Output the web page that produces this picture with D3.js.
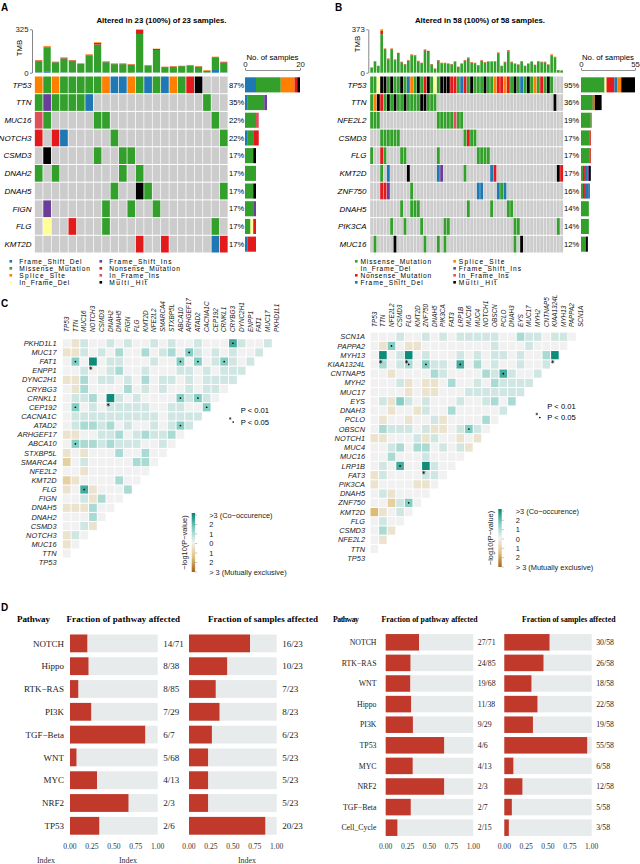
<!DOCTYPE html>
<html><head><meta charset="utf-8">
<script src="https://cdn.jsdelivr.net/npm/d3@7"></script>
<style>
body{margin:0;background:#fff;}
svg{display:block;font-family:"Liberation Sans",Arial,sans-serif;}
</style></head><body>
<svg id="c" width="640" height="864"></svg>
<script>
// ---------------- DATA ----------------
const mutNames = {M:"Missense_Mutation",N:"Nonsense_Mutation",S:"Splice_Site",D:"Frame_Shift_Del",I:"Frame_Shift_Ins",d:"In_Frame_Del",i:"In_Frame_Ins",X:"Multi_Hit"};
const mutColors = {M:"#33A02C",N:"#E31A1C",S:"#FF7F00",D:"#1F78B4",I:"#6A3D9A",d:"#FFFF99",i:"#E0505C",X:"#000000"};

// Panel A (23 samples)
const genesA = ["TP53","TTN","MUC16","NOTCH3","CSMD3","DNAH2","DNAH5","FIGN","FLG","KMT2D"];
const mutA = [
 "SMSMMMMMSDDSMDMDSMNX...",
 "MIMMMMD.............M..",
 "iM.....MM............M.",
 "N.ND.....M............M",
 ".X.....M..MM...........",
 "M.M.......M.M..........",
 ".........M..XM........M",
 ".I......M..M..M........",
 ".d..N...M............M.",
 "............N..N.....DN"
];
const tmbA_mis = [84,184,78,105,87,65,127,208,79,62,64,60,287,52,168,42,45,49,53,45,13,92,74];
const tmbA_non = [5,5,3,5,4,3,6,12,4,3,4,3,30,3,8,2,3,2,3,3,0,5,4];
const tmbA_spl = [3,5,2,3,2,2,3,5,2,3,2,2,5,3,2,1,2,1,2,2,5,3,3];
const tmbA_fsd = [3,6,0,2,2,0,2,3,0,2,0,0,3,0,2,0,0,0,0,0,2,20,2];

// Panel B (58 samples)
const genesB = ["TP53","TTN","NFE2L2","CSMD3","FLG","KMT2D","ZNF750","DNAH5","PIK3CA","MUC16"];
const mutB = [
 "MMdXXMXMMX"+"MDSMXMNXMd"+"MXXXNNMDNM"+"XMMMXMMSNN"+"SNMXMDMXMS"+"MNMXM...",
 "MSXNMXMXMM"+"XMMMMXXMMM"+".........."+".........."+".........."+".....X..",
 "MMM......."+".........."+"MMMMMiMM.."+".........."+".........."+"........",
 "...MMMMMM."+".........."+"........MN"+"MM........"+".........."+"........",
 "M..NM....M"+"M........."+"M........."+"..MMMM...."+".........."+"........",
 "...M.D...."+".X........"+"DI......M."+"......DN.."+".........."+"......XN",
 "...NNI...."+"..M......."+".........."+"..DD....DM"+"D........."+"........",
 ".........M"+"..MMM....."+".........M"+"......M..."+".MM......."+"........",
 "......M..."+"M....M...."+"..MM......"+".........."+"...MM....."+"......M.",
 ".M.....X.."+"......M..."+"M.M......."+".........."+"...M.X...."+"........"
];
const tmbB_total = [46,100,60,373,209,123,209,115,172,95,75,109,158,152,103,86,201,189,75,37,109,86,86,80,75,98,52,80,109,132,92,86,66,109,92,98,98,100,175,60,95,195,95,80,72,100,60,80,98,69,100,95,95,72,158,138,23,20];
const tmbB_non = [2,4,2,28,8,6,8,5,7,4,3,4,6,6,4,3,8,8,3,2,5,3,3,3,3,4,2,3,4,5,4,3,3,4,4,4,4,4,7,2,4,8,4,3,3,4,2,3,4,3,4,4,4,3,6,6,1,1];
const tmbB_spl = [1,2,1,14,3,2,3,2,3,2,1,2,3,3,2,1,3,3,1,1,2,2,2,1,1,2,1,1,2,3,2,2,1,2,2,2,2,2,3,1,2,3,2,1,1,2,1,1,2,1,2,2,2,1,3,6,0,0];

// Panel C: rows top->bottom; each row string holds levels vs. the genes below it
const genesCL = ["PKHD1L1","MUC17","FAT1","ENPP1","DYNC2H1","CRYBG3","CRNKL1","CEP192","CACNA1C","ATAD2","ARHGEF17","ABCA10","STXBP5L","SMARCA4","NFE2L2","KMT2D","FLG","FIGN","DNAH5","DNAH2","CSMD3","NOTCH3","MUC16","TTN","TP53"];
const cellsCL = ["0a1001010010100100041001","aa101020020120310101001","0305011000100303013101","001001200100011010111","aa201101020110101111","0a20000201010010110","011205101000031310","03010111110011003","0111111111101111","012212010010131","aa001120121120","0322121110010","a0a000200200","b0100000220","00a0000000","ba0000200","a04a0002","001a200","aaa200","00020","001a","a10","a0","0",""];
const sigCL = [["PKHD1L1","CRYBG3",1],["MUC17","ARHGEF17",1],["FAT1","TTN",1],["FAT1","NOTCH3",2],["FAT1","ABCA10",1],["FAT1","ATAD2",1],["FAT1","CRNKL1",1],["CRNKL1","DNAH2",2],["CRNKL1","ABCA10",1],["CRNKL1","ATAD2",1],["CEP192","TTN",1],["CEP192","CACNA1C",1],["ATAD2","ABCA10",1],["ABCA10","TTN",1],["FLG","MUC16",1]];

const genesCR = ["SCN1A","PAPPA2","MYH13","KIAA1324L","CNTNAP5","MYH2","MUC17","EYS","DNAH3","PCLO","OBSCN","NOTCH1","MUC4","MUC16","LRP1B","FAT3","PIK3CA","DNAH5","ZNF750","KMT2D","FLG","CSMD3","NFE2L2","TTN","TP53"];
const cellsCR = ["000100101011111002110110","0a30aa00000000100010000","0501501000101011010025","020120311040201001001","00a00002100002141001","0001a0aa02001021111","0000a0aa0001111111","01a31010001001202","00a00a1002000001","0a00a001a000020","0211101aa01310","aa0001a100a0a","00120220101a","00200010000","0104005100","a10000110","a0000aa0","01a0000","00b130","ca010","0100","02a","0a","0",""];
const sigCR = [["PAPPA2","NFE2L2",1],["MYH13","TTN",2],["MYH13","FLG",2],["MYH13","KIAA1324L",2],["KIAA1324L","FLG",1],["KIAA1324L","ZNF750",1],["KIAA1324L","LRP1B",1],["CNTNAP5","PCLO",1],["OBSCN","MUC16",1],["LRP1B","CSMD3",1],["LRP1B","ZNF750",2],["ZNF750","FLG",1]];
const levelValue = {"0":0,"1":0.45,"2":0.95,"3":1.45,"4":2.2,"5":2.85,"a":-0.45,"b":-1.05,"c":-1.6};

// Panel D
const pathA = ["NOTCH","Hippo","RTK\u2212RAS","PI3K","TGF\u2212Beta","WNT","MYC","NRF2","TP53"];
const pathA_alt = [14,8,8,7,6,5,4,2,2];
const pathA_tot = [71,38,85,29,7,68,13,3,6];
const pathA_smp = [16,10,7,8,6,5,5,5,20];
const pathB = ["NOTCH","RTK\u2212RAS","WNT","Hippo","PI3K","TP53","MYC","NRF2","TGF\u2212Beta","Cell_Cycle"];
const pathB_alt = [27,24,19,11,9,4,4,2,2,2];
const pathB_tot = [71,85,68,38,29,6,13,3,7,15];
const pathB_smp = [30,26,18,22,19,55,6,12,5,3];
const fracTicks = [0,0.25,0.5,0.75,1];

// ---------------- DRAW ----------------
const svg = d3.select("#c");
function panelLabel(t,x,y){svg.append("text").attr("x",x).attr("y",y).attr("font-weight","bold").attr("font-size",10).text(t);}
panelLabel("A",1,10.5); panelLabel("B",335,10.5); panelLabel("C",1,307); panelLabel("D",1,611);

function oncoplot(cfg){
  const g = svg.append("g");
  const n = cfg.mut[0].length;
  const x = d3.scaleBand().domain(d3.range(n)).range([cfg.x0,cfg.x1]);
  const y = d3.scaleBand().domain(cfg.genes).range([76,253]);
  const bw = x.bandwidth();
  g.append("text").attr("x",cfg.titleX).attr("y",22.5).attr("text-anchor","middle")
   .attr("font-weight","bold").attr("font-size",7.8).text(cfg.title);
  // TMB
  const yt = d3.scaleLinear().domain([0,cfg.tmbMax]).range([72.7,29.3]);
  const keys = ["D","M","N","S"];
  for(let s=0;s<n;s++){
    let acc=0;
    for(const k of keys){
      const v = cfg.tmb[k][s]; if(!v) continue;
      g.append("rect").attr("x",x(s)+cfg.gap).attr("width",bw-2*cfg.gap)
       .attr("y",yt(acc+v)).attr("height",yt(acc)-yt(acc+v)).attr("fill",mutColors[k]);
      acc+=v;
    }
  }
  const ax = g.append("g").attr("transform",`translate(${cfg.axX},0)`)
   .call(d3.axisLeft(yt).tickValues([0,cfg.tmbMax]).tickSize(2).tickSizeOuter(0).tickPadding(1.5));
  ax.select(".domain").attr("stroke","#333").attr("stroke-width",0.6);
  ax.selectAll(".tick line").attr("stroke","#333").attr("stroke-width",0.6);
  ax.selectAll("text").attr("font-size",7.8).attr("fill","#222").attr("font-family","Liberation Sans, Arial");
  g.append("text").attr("transform",`translate(${cfg.tmbLabX},${cfg.tmbLabY}) rotate(-90)`)
   .attr("text-anchor","middle").attr("font-size",7.8).text("TMB");
  const xb = d3.scaleLinear().domain([0,cfg.barMax]).range([cfg.bx0,cfg.bx1]);
  // grid
  cfg.genes.forEach((gn,r)=>{
    const row = cfg.mut[r];
    for(let s=0;s<n;s++){
      const c = row[s];
      g.append("rect").attr("x",x(s)+cfg.cgap).attr("width",bw-2*cfg.cgap)
       .attr("y",y(gn)+0.5).attr("height",y.bandwidth()-1)
       .attr("fill", c==="." ? "#CCCCCC" : mutColors[c]);
    }
    g.append("text").attr("x",cfg.labX).attr("y",y(gn)+y.bandwidth()/2+2.8).attr("text-anchor","end")
     .attr("font-style","italic").attr("font-size",8).text(gn);
    const cnt = row.split("").filter(ch=>ch!==".").length;
    g.append("text").attr("x",cfg.pctX).attr("y",y(gn)+y.bandwidth()/2+2.7)
     .attr("font-size",7.6).text(Math.round(cnt/n*100)+"%");
    // side bar
    let acc=0;
    for(const k of cfg.order){
      const v = row.split("").filter(ch=>ch===k).length; if(!v) continue;
      g.append("rect").attr("x",xb(acc)).attr("width",xb(acc+v)-xb(acc))
       .attr("y",y(gn)+1.3).attr("height",y.bandwidth()-2.6).attr("fill",mutColors[k]);
      acc+=v;
    }
  });
  const bax = g.append("g").attr("transform","translate(0,70)")
   .call(d3.axisTop(xb).tickValues([0,cfg.barMax]).tickSize(2).tickSizeOuter(0).tickPadding(1.5));
  bax.select(".domain").attr("stroke","#444").attr("stroke-width",0.6);
  bax.selectAll(".tick line").attr("stroke","#444").attr("stroke-width",0.6);
  bax.selectAll("text").attr("font-size",7.8).attr("fill","#222").attr("font-family","Liberation Sans, Arial");
  g.append("text").attr("x",(cfg.bx0+cfg.bx1)/2).attr("y",60).attr("text-anchor","middle")
   .attr("font-size",7.8).text("No. of samples");
  // legend
  cfg.order.split("").forEach((k,i)=>{
    const col = Math.floor(i/4), rr = i%4;
    const lx = cfg.legX[col], ly = 261.3 + rr*7.0;
    g.append("rect").attr("x",lx).attr("y",ly-1.3).attr("width",2.6).attr("height",2.6).attr("fill",mutColors[k]);
    g.append("text").attr("x",lx+cfg.legDx).attr("y",ly+2.3).attr("font-size",6.6).attr("textLength",mutNames[k].length*4.15).text(mutNames[k]);
  });
}

oncoplot({genes:genesA, mut:mutA, x0:34.5, x1:228, title:"Altered in 23 (100%) of 23 samples.", titleX:161.5,
  tmb:{M:tmbA_mis,N:tmbA_non,S:tmbA_spl,D:tmbA_fsd}, tmbMax:325, axX:32, tmbLabX:22, tmbLabY:48, gap:0.6, cgap:0.35,
  labX:31.5, pctX:229, bx0:245, bx1:300, barMax:20, order:"DMSdINiX", legX:[9.5,99.5], legDx:9.8});

const tmbB_mis = tmbB_total.map((t,i)=>t-tmbB_non[i]-tmbB_spl[i]);
oncoplot({genes:genesB, mut:mutB, x0:370, x1:563.3, title:"Altered in 58 (100%) of 58 samples.", titleX:480,
  tmb:{M:tmbB_mis,N:tmbB_non,S:tmbB_spl,D:new Array(58).fill(0)}, tmbMax:373, axX:368.3, tmbLabX:360, tmbLabY:44, gap:0.35, cgap:0.2,
  labX:366.5, pctX:564, bx0:581, bx1:635, barMax:55, order:"MdNDSIiX", legX:[355,453.3], legDx:5.5});

// ---- Panel C ----
const cColor = d3.scaleLinear().domain([-3,-1.5,0,1.5,3]).range(["#a6611a","#dfc27d","#f1f1f1","#80cdc1","#018571"]).clamp(true);
function triangle(cfg){
  const g = svg.append("g");
  const genes = cfg.genes, cols = genes.slice().reverse();
  const x = d3.scaleBand().domain(cols).range([cfg.x0, cfg.x0+cols.length*cfg.cw]);
  const y = d3.scaleBand().domain(genes).range([cfg.y0, cfg.y0+genes.length*cfg.rh]);
  genes.forEach((gn,r)=>{
    const str = cfg.cells[r];
    for(let j=0;j<str.length;j++){
      g.append("rect").attr("x",x(cols[j])+0.5).attr("y",y(gn)+0.5)
       .attr("width",x.bandwidth()-1).attr("height",y.bandwidth()-1)
       .attr("fill",cColor(levelValue[str[j]]));
    }
    g.append("text").attr("x",cfg.labX).attr("y",y(gn)+y.bandwidth()/2+2.6).attr("text-anchor","end")
     .attr("font-style","italic").attr("font-size",7.4).attr("fill","#222").text(gn);
  });
  cols.forEach(c=>{
    g.append("text").attr("transform",`translate(${x(c)+x.bandwidth()/2+2.2},${cfg.colY}) rotate(-90)`)
     .attr("font-style","italic").attr("font-size",6.4).attr("fill","#222").text(c);
  });
  const star = d3.symbol(d3.symbolAsterisk, 9);
  cfg.sig.forEach(([r,c,t])=>{
    const cx = x(c)+x.bandwidth()/2, cy = y(r)+y.bandwidth()/2;
    if(t===1) g.append("circle").attr("cx",cx).attr("cy",cy).attr("r",0.85).attr("fill","#000");
    else g.append("path").attr("d",star()).attr("transform",`translate(${cx-2.2},${cy+6.6})`).attr("stroke","#000").attr("stroke-width",0.6).attr("fill","none");
  });
  // P legend
  g.append("text").attr("x",cfg.pX).attr("y",cfg.pY).attr("font-size",7.6).text("P < 0.01");
  g.append("text").attr("x",cfg.pX).attr("y",cfg.pY+11.5).attr("font-size",7.6).text("P < 0.05");
  g.append("path").attr("d",d3.symbol(d3.symbolAsterisk,5)()).attr("transform",`translate(${cfg.pX-10.5},${cfg.pY+5.5})`).attr("stroke","#000").attr("stroke-width",0.5);
  g.append("circle").attr("cx",cfg.pX-7.5).attr("cy",cfg.pY+9).attr("r",0.85).attr("fill","#000");
  // colour bar
  const gid = "grad"+cfg.id;
  const grad = svg.append("defs").append("linearGradient").attr("id",gid).attr("x1",0).attr("x2",0).attr("y1",0).attr("y2",1);
  [3,1.5,0,-1.5,-3].forEach((v,i)=>grad.append("stop").attr("offset",i/4).attr("stop-color",cColor(v)));
  g.append("rect").attr("x",cfg.cbX).attr("y",cfg.cbY0).attr("width",3.4).attr("height",cfg.cbY1-cfg.cbY0).attr("fill",`url(#${gid})`);
  const labs = [">3 (Co\u2212occurence)","2","1","0","1","2","> 3 (Mutually exclusive)"];
  const ly = d3.scaleLinear().domain([0,6]).range([cfg.cbY0+2,cfg.cbY1]);
  labs.forEach((t,i)=>{
    g.append("line").attr("x1",cfg.cbX+3.4).attr("x2",cfg.cbX+5.5).attr("y1",ly(i)).attr("y2",ly(i)).attr("stroke","#888").attr("stroke-width",0.5);
    g.append("text").attr("x",cfg.cbX+17.5).attr("y",ly(i)+2.6).attr("font-size",7.4).attr("fill","#222").text(t);
  });
  g.append("text").attr("transform",`translate(${cfg.cbX-5},${(cfg.cbY0+cfg.cbY1)/2}) rotate(-90)`)
   .attr("text-anchor","middle").attr("font-size",7.4).attr("fill","#222").text("\u2212log10(P\u2212value)");
}
triangle({id:"L", genes:genesCL, cells:cellsCL, sig:sigCL, x0:62.3, cw:8.75, y0:338.7, rh:9.14, labX:56.5, colY:332,
  pX:240.7, pY:413, cbX:191.7, cbY0:513, cbY1:572});
triangle({id:"R", genes:genesCR, cells:cellsCR, sig:sigCR, x0:370, cw:8.6, y0:332.1, rh:9.23, labX:365, colY:327,
  pX:547.3, pY:408.5, cbX:498.3, cbY0:509, cbY1:567});

// ---- Panel D ----
function pathways(cfg){
  const g = svg.append("g").attr("font-family","Liberation Serif, Times New Roman, serif");
  const y = d3.scaleBand().domain(cfg.names).range([cfg.y0, cfg.y0+cfg.names.length*cfg.pitch]).paddingInner(cfg.pad).paddingOuter(cfg.pad/2);
  const x1 = d3.scaleLinear().domain([0,1]).range(cfg.b1);
  const x2 = d3.scaleLinear().domain([0,1]).range(cfg.b2);
  const hs = cfg.hfs;
  g.append("text").attr("x",cfg.hx[0]).attr("y",622).attr("font-weight","bold").attr("font-size",hs).attr("textLength",cfg.hw[0]).text("Pathway");
  g.append("text").attr("x",cfg.hx[1]).attr("y",622).attr("font-weight","bold").attr("font-size",hs).attr("textLength",cfg.hw[1]).text("Fraction of pathway affected");
  g.append("text").attr("x",cfg.hx[2]).attr("y",622).attr("font-weight","bold").attr("font-size",hs).attr("textLength",cfg.hw[2]).text("Fraction of samples affected");
  cfg.names.forEach((nm,i)=>{
    const yy = y(nm), h = y.bandwidth(), cy = yy+h/2+cfg.fs*0.35;
    g.append("text").attr("x",cfg.labR).attr("y",cy).attr("text-anchor","end").attr("font-size",cfg.fs).attr("fill","#222").text(nm);
    g.append("rect").attr("x",x1(0)).attr("y",yy).attr("width",x1(1)-x1(0)).attr("height",h).attr("fill","#E8EBEB");
    g.append("rect").attr("x",x1(0)).attr("y",yy).attr("width",x1(cfg.alt[i]/cfg.tot[i])-x1(0)).attr("height",h).attr("fill","#C0392B");
    g.append("text").attr("x",cfg.b1[1]+cfg.lgap).attr("y",cy).attr("font-size",cfg.fs).attr("fill","#222").text(cfg.alt[i]+"/"+cfg.tot[i]);
    g.append("rect").attr("x",x2(0)).attr("y",yy).attr("width",x2(1)-x2(0)).attr("height",h).attr("fill","#E8EBEB");
    g.append("rect").attr("x",x2(0)).attr("y",yy).attr("width",x2(cfg.smp[i]/cfg.n)-x2(0)).attr("height",h).attr("fill","#C0392B");
    g.append("text").attr("x",cfg.b2[1]+cfg.lgap).attr("y",cy).attr("font-size",cfg.fs).attr("fill","#222").text(cfg.smp[i]+"/"+cfg.n);
  });
  [x1,x2].forEach(sc=>{
    fracTicks.forEach(t=>{
      g.append("text").attr("x",sc(t)).attr("y",849).attr("text-anchor","middle").attr("font-size",7.6).attr("fill","#333").text(t.toFixed(2));
    });
  });
  if(cfg.index) cfg.index.forEach(ix=>g.append("text").attr("x",ix).attr("y",863).attr("text-anchor","middle").attr("font-size",8).attr("fill","#333").text("Index"));
}
pathways({names:pathA, alt:pathA_alt, tot:pathA_tot, smp:pathA_smp, n:23, y0:632, pitch:22.8, pad:0.22,
  b1:[70,157.7], b2:[189,276.7], labR:64, lgap:5.5, fs:9, hfs:9, hx:[17,66.5,208], hw:[33,113.5,110], index:[46,128,247]});
pathways({names:pathB, alt:pathB_alt, tot:pathB_tot, smp:pathB_smp, n:58, y0:632, pitch:20.6, pad:0.2,
  b1:[385.7,473.3], b2:[504.3,591.7], labR:376.5, lgap:4.5, fs:7.8, hfs:7.8, hx:[333,381.6,522], hw:[26,96,93.5], index:null});
</script></body></html>
